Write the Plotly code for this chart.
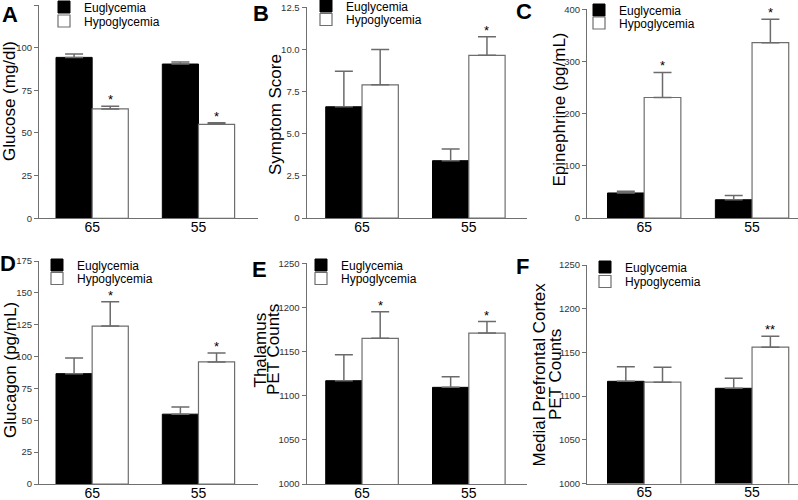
import plotly.graph_objects as go

W, H = 798, 500

# ---------------- data ----------------
GROUPS = ["65", "55"]
SERIES = ["Euglycemia", "Hypoglycemia"]
PANEL_LETTERS = ["A", "B", "C", "D", "E", "F"]

glucose_eu = [94.3, 90.4]
glucose_eu_err = [2.0, 1.2]
glucose_hypo = [64.1, 55.1]
glucose_hypo_err = [1.5, 0.9]
glucose_stars = ["*", "*"]

symptom_eu = [6.6, 3.4]
symptom_eu_err = [2.1, 0.7]
symptom_hypo = [7.9, 9.65]
symptom_hypo_err = [2.1, 1.1]
symptom_stars = ["", "*"]

epi_eu = [48, 35]
epi_eu_err = [3.5, 8]
epi_hypo = [231, 336]
epi_hypo_err = [48, 45]
epi_stars = ["*", "*"]

glucagon_eu = [86.6, 54.8]
glucagon_eu_err = [12.3, 5.6]
glucagon_hypo = [123.9, 95.8]
glucagon_hypo_err = [19.1, 7.1]
glucagon_stars = ["*", "*"]

thal_eu = [1117, 1109.5]
thal_eu_err = [29.5, 12]
thal_hypo = [1165, 1171]
thal_hypo_err = [30, 13]
thal_stars = ["*", "*"]

mpfc_eu = [1117, 1109]
mpfc_eu_err = [16.5, 11.5]
mpfc_hypo = [1116, 1156]
mpfc_hypo_err = [17, 12.5]
mpfc_stars = ["", "**"]

glucose_ticks = [0, 25, 50, 75, 100, 125]
glucose_ticktext = ["0", "25", "50", "75", "100", "125"]
symptom_ticks = [0, 2.5, 5, 7.5, 10, 12.5]
symptom_ticktext = ["0", "2.5", "5.0", "7.5", "10.0", "12.5"]
epi_ticks = [0, 100, 200, 300, 400]
epi_ticktext = ["0", "100", "200", "300", "400"]
glucagon_ticks = [0, 25, 50, 75, 100, 125, 150, 175]
glucagon_ticktext = ["0", "25", "50", "75", "100", "125", "150", "175"]
pet_ticks = [1000, 1050, 1100, 1150, 1200, 1250]
pet_ticktext = ["1000", "1050", "1100", "1150", "1200", "1250"]

titles = [
    ["Glucose (mg/dl)"],
    ["Symptom Score"],
    ["Epinephrine (pg/mL)"],
    ["Glucagon (pg/mL)"],
    ["Thalamus", "PET Counts"],
    ["Medial Prefrontal Cortex", "PET Counts"],
]

data = [
    (glucose_eu, glucose_eu_err, glucose_hypo, glucose_hypo_err, glucose_stars, glucose_ticks, glucose_ticktext),
    (symptom_eu, symptom_eu_err, symptom_hypo, symptom_hypo_err, symptom_stars, symptom_ticks, symptom_ticktext),
    (epi_eu, epi_eu_err, epi_hypo, epi_hypo_err, epi_stars, epi_ticks, epi_ticktext),
    (glucagon_eu, glucagon_eu_err, glucagon_hypo, glucagon_hypo_err, glucagon_stars, glucagon_ticks, glucagon_ticktext),
    (thal_eu, thal_eu_err, thal_hypo, thal_hypo_err, thal_stars, pet_ticks, pet_ticktext),
    (mpfc_eu, mpfc_eu_err, mpfc_hypo, mpfc_hypo_err, mpfc_stars, pet_ticks, pet_ticktext),
]

# ---------------- layout (pixels) ----------------
geom = [
    dict(x0=39, x1=258, yt=5, yb=218.3, xr=[-0.5, 1.56]),
    dict(x0=306.5, x1=527, yt=7.3, yb=218, xr=[-0.52, 1.545]),
    dict(x0=587, x1=798, yt=9.3, yb=218, xr=[-0.53, 1.426]),
    dict(x0=39, x1=258, yt=261, yb=484, xr=[-0.5, 1.56]),
    dict(x0=306.5, x1=527, yt=263.3, yb=484, xr=[-0.52, 1.545]),
    dict(x0=587, x1=798, yt=265, yb=483.6, xr=[-0.53, 1.426]),
]
# title line centres (x per line) and vertical centre
title_pos = [([10], 101), ([276], 115), ([559.5], 110), ([10], 370), ([259.5, 273], 350), ([538.5, 555], 375)]
letter_pos = [(9.5, 14.5), (261, 13.5), (523.5, 11.5), (7.5, 263.5), (259.5, 269), (522, 266)]
legend_pos = [(76, 7, 21), (338, 6, 19.5), (611, 10, 23), (69, 265, 278.5), (333, 265, 278.5), (617, 267, 281.5)]

BARGAP = 0.32
AXIS_COLOR = "#707070"
ERR_COLOR = "#6b6b6b"
FONT = "Liberation Sans, Arial, Helvetica, sans-serif"


def px(x):
    return x / W


def py(y):
    return 1 - y / H


fig = go.Figure()
annotations = []
layout_upd = {}

for i, (eu, eu_err, hy, hy_err, stars, tv, tt) in enumerate(data):
    k = "" if i == 0 else str(i + 1)
    g = geom[i]
    xa, ya = "x" + k, "y" + k
    lg1 = "legend" if i == 0 else "legend" + str(2 * i + 1)
    lg2 = "legend" + str(2 * i + 2)

    fig.add_trace(go.Bar(
        x=GROUPS, y=eu, name=SERIES[0], xaxis=xa, yaxis=ya, legend=lg1,
        marker=dict(color="#000000", line=dict(color="#000000", width=1)),
        error_y=dict(type="data", array=eu_err, arrayminus=[0] * len(eu_err), symmetric=False,
                     color=ERR_COLOR, thickness=1.5, width=9),
    ))
    fig.add_trace(go.Bar(
        x=GROUPS, y=hy, name=SERIES[1], xaxis=xa, yaxis=ya, legend=lg2,
        marker=dict(color="#ffffff", line=dict(color="#6e6e6e", width=1.2)),
        error_y=dict(type="data", array=hy_err, arrayminus=[0] * len(hy_err), symmetric=False,
                     color=ERR_COLOR, thickness=1.5, width=9),
    ))

    layout_upd["xaxis" + k] = dict(
        domain=[px(g["x0"]), px(g["x1"])], anchor=ya, type="category",
        range=g["xr"], showline=True, linecolor=AXIS_COLOR, linewidth=1,
        ticks="", showgrid=False, zeroline=False, ticklabelstandoff=-4,
        tickfont=dict(size=14, color="#000000", family=FONT), fixedrange=True,
    )
    layout_upd["yaxis" + k] = dict(
        domain=[py(g["yb"]), py(g["yt"])], anchor=xa,
        range=[tv[0], tv[-1]], tickvals=tv, ticktext=tt,
        showline=True, linecolor=AXIS_COLOR, linewidth=1,
        ticks="outside", ticklen=4, tickcolor=AXIS_COLOR, tickwidth=1,
        showgrid=False, zeroline=False,
        tickfont=dict(size=9.5, color="#333333", family=FONT), fixedrange=True,
    )

    lx, ly1, ly2 = legend_pos[i]
    for lg, ly in ((lg1, ly1), (lg2, ly2)):
        layout_upd[lg] = dict(
            x=px(lx - 32), y=py(ly), xanchor="left", yanchor="middle",
            bgcolor="rgba(0,0,0,0)", borderwidth=0, itemwidth=30,
            font=dict(size=12, color="#000000", family=FONT),
        )

    off = (1 - BARGAP) / 4
    for j, s in enumerate(stars):
        if s:
            annotations.append(dict(
                x=j + off, y=hy[j] + hy_err[j], xref=xa, yref=ya,
                text=s, showarrow=False, yanchor="bottom", yshift=-3,
                font=dict(size=13, color="#000000", family=FONT),
            ))

    txs, ty = title_pos[i]
    for line, tx in zip(titles[i], txs):
        annotations.append(dict(
            x=px(tx), y=py(ty), xref="paper", yref="paper", text=line,
            textangle=-90, showarrow=False, xanchor="center", yanchor="middle",
            font=dict(size=17, color="#000000", family=FONT),
        ))
    lx_, ly_ = letter_pos[i]
    annotations.append(dict(
        x=px(lx_), y=py(ly_), xref="paper", yref="paper", text="<b>" + PANEL_LETTERS[i] + "</b>",
        showarrow=False, xanchor="center", yanchor="middle",
        font=dict(size=22, color="#000000", family=FONT),
    ))

fig.update_layout(
    width=W, height=H, margin=dict(l=0, r=0, t=0, b=0, autoexpand=False), autosize=False,
    paper_bgcolor="#ffffff", plot_bgcolor="#ffffff",
    barmode="group", bargap=BARGAP, bargroupgap=0,
    showlegend=True, annotations=annotations,
    font=dict(family=FONT),
    **layout_upd,
)

fig.write_html(
    "out.html",
    include_plotlyjs=True,
    default_width="798px",
    default_height="500px",
    config={"responsive": False, "displayModeBar": False},
    post_script="document.body.style.margin='0';document.documentElement.style.overflow='hidden';",
)
